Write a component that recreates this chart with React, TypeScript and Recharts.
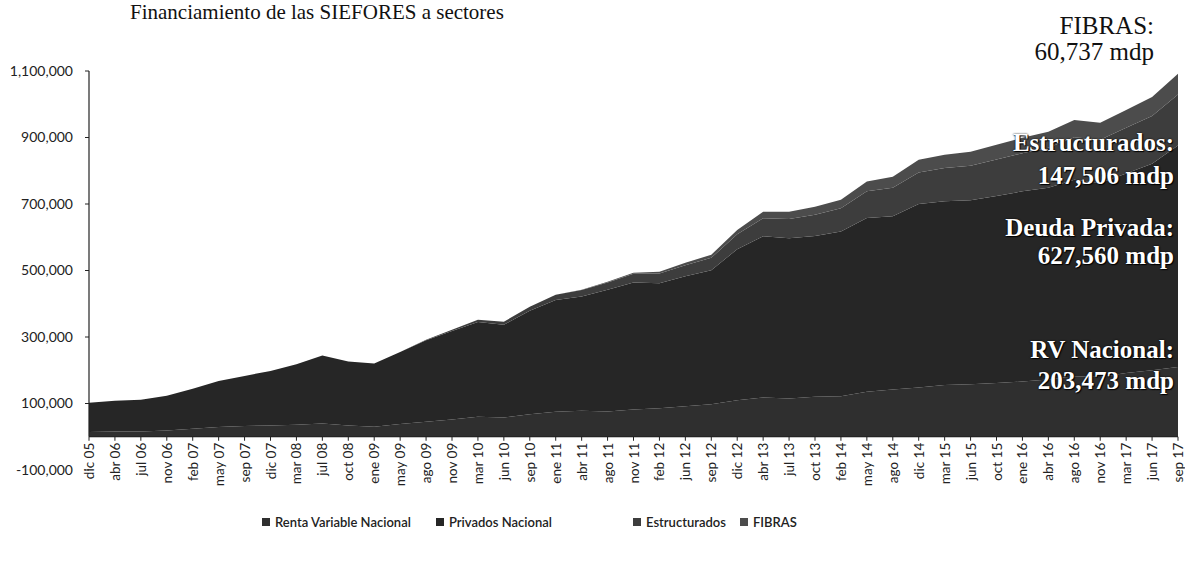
import { AreaChart, Area, XAxis, YAxis, ReferenceLine } from 'recharts'

// monthly tick labels as printed on the axis
const months = [
  'dic 05', 'abr 06', 'jul 06', 'nov 06', 'feb 07', 'may 07', 'sep 07', 'dic 07', 'mar 08', 'jul 08',
  'oct 08', 'ene 09', 'may 09', 'ago 09', 'nov 09', 'mar 10', 'jun 10', 'sep 10', 'ene 11', 'abr 11',
  'ago 11', 'nov 11', 'feb 12', 'jun 12', 'sep 12', 'dic 12', 'abr 13', 'jul 13', 'oct 13', 'feb 14',
  'may 14', 'ago 14', 'dic 14', 'mar 15', 'jun 15', 'oct 15', 'ene 16', 'abr 16', 'ago 16', 'nov 16',
  'mar 17', 'jun 17', 'sep 17',
]

// miles de millones de pesos (thousands of mdp)
const rentaVariable = [
  14, 16, 16, 19, 24, 29, 32, 34, 36, 40,
  34, 30, 38, 45, 52, 60, 58, 68, 75, 78,
  76, 82, 86, 92, 98, 110, 118, 115, 120, 122,
  135, 142, 148, 156, 158, 162, 166, 172, 182, 180,
  192, 200, 210,
]
const privados = [
  88, 92, 95, 104, 120, 139, 151, 164, 182, 204,
  192, 190, 217, 245, 266, 285, 279, 311, 336, 344,
  366, 382, 376, 391, 403, 454, 485, 482, 484, 495,
  523, 521, 552, 552, 553, 562, 572, 577, 591, 583,
  600, 621, 666,
]
const estructurados = [
  0, 0, 0, 0, 0, 0, 0, 0, 0, 0,
  0, 0, 0, 2, 4, 7, 9, 12, 16, 19,
  22, 26, 29, 33, 37, 45, 54, 58, 64, 70,
  80, 86, 95, 100, 104, 110, 115, 120, 128, 130,
  137, 144, 153,
]
const fibras = [
  0, 0, 0, 0, 0, 0, 0, 0, 0, 0,
  0, 0, 0, 0, 0, 0, 0, 0, 0, 1,
  2, 3, 5, 7, 9, 13, 20, 22, 24, 26,
  30, 33, 38, 40, 42, 44, 46, 48, 52, 51,
  54, 57, 63,
]

const yTicks = [-100000, 100000, 300000, 500000, 700000, 900000, 1100000]

const data = months.map((m, i) => ({
  month: m,
  rv: rentaVariable[i] * 1000,
  priv: privados[i] * 1000,
  estr: estructurados[i] * 1000,
  fib: fibras[i] * 1000,
}))

const PLOT_TOP = 71
const PLOT_BOTTOM = 470
// distance from the -100,000 floor up to the zero line (1/12 of the range)
const ZERO_OFFSET = (PLOT_BOTTOM - PLOT_TOP) / 12

const axisFont = 'Lato, "Open Sans", sans-serif'

function MonthTick({ x, y, payload }: any) {
  const y0 = y - ZERO_OFFSET
  return (
    <g>
      <line x1={x} x2={x} y1={y0} y2={y0 + 4} stroke="#222" strokeWidth={1} />
      <text
        x={x}
        y={y0 + 6}
        transform={`rotate(-90, ${x}, ${y0 + 6})`}
        textAnchor="end"
        dominantBaseline="central"
        fontSize={13.5}
        fontFamily={axisFont}
        fill="#222"
      >
        {payload.value}
      </text>
    </g>
  )
}

const serif = '"Liberation Serif", "DejaVu Serif", serif'

const whiteLabel: React.CSSProperties = {
  position: 'absolute',
  right: 11,
  fontFamily: serif,
  fontSize: 25,
  fontWeight: 700,
  color: '#fff',
  lineHeight: 1,
  whiteSpace: 'nowrap',
  textShadow: '0 0 2px #000, 1px 1px 1px #000',
}

const COLORS = { rv: '#2f2f2f', priv: '#262626', estr: '#3d3d3d', fib: '#4c4c4c' }

const legendItems = [
  { name: 'Renta Variable Nacional', color: COLORS.rv, left: 262 },
  { name: 'Privados Nacional', color: COLORS.priv, left: 436 },
  { name: 'Estructurados', color: COLORS.estr, left: 633 },
  { name: 'FIBRAS', color: COLORS.fib, left: 740 },
]

export default function App() {
  return (
    <div style={{ position: 'absolute', left: 0, top: 0, width: 1185, height: 561, background: '#fff', overflow: 'hidden' }}>
      {/* title, cropped by the scan in the original */}
      <div style={{ position: 'absolute', left: 130, top: 1, fontFamily: serif, fontSize: 21, lineHeight: 1.1, color: '#111', whiteSpace: 'nowrap' }}>
        Financiamiento de las SIEFORES a sectores
      </div>

      <AreaChart
        width={1185}
        height={561}
        data={data}
        margin={{ top: PLOT_TOP, right: 7, left: 0, bottom: 561 - PLOT_BOTTOM - 30 }}
      >
        <YAxis
          domain={[-100000, 1100000]}
          ticks={yTicks}
          interval={0}
          width={89}
          tickSize={4}
          tickMargin={12}
          axisLine={false}
          tickLine={{ stroke: '#222' }}
          tick={{ fontSize: 14, fill: '#222', fontFamily: axisFont }}
          tickFormatter={(v: number) => v.toLocaleString('en-US')}
          allowDataOverflow
        />
        <XAxis
          dataKey="month"
          interval={0}
          height={30}
          axisLine={false}
          tickLine={false}
          tickSize={0}
          tickMargin={0}
          tick={<MonthTick />}
        />

        <Area type="linear" dataKey="rv" stackId="s" stroke="none" fill={COLORS.rv} fillOpacity={1} isAnimationActive={false} />
        <Area type="linear" dataKey="priv" stackId="s" stroke="none" fill={COLORS.priv} fillOpacity={1} isAnimationActive={false} />
        <Area type="linear" dataKey="estr" stackId="s" stroke="none" fill={COLORS.estr} fillOpacity={1} isAnimationActive={false} />
        <Area type="linear" dataKey="fib" stackId="s" stroke="none" fill={COLORS.fib} fillOpacity={1} isAnimationActive={false} />

        {/* zero line acting as the category axis */}
        <ReferenceLine y={0} stroke="#111" strokeWidth={1} />
        {/* value axis line, drawn from zero up */}
        <ReferenceLine
          segment={[{ x: months[0], y: 0 }, { x: months[0], y: 1100000 }]}
          stroke="#222"
          strokeWidth={1.2}
        />
      </AreaChart>

      {/* end-of-period annotations */}
      <div style={{ position: 'absolute', right: 31, top: 13, textAlign: 'right', fontFamily: serif, fontSize: 25, color: '#111', lineHeight: '26px' }}>
        FIBRAS:<br />60,737 mdp
      </div>
      <div style={{ ...whiteLabel, top: 130 }}>Estructurados:</div>
      <div style={{ ...whiteLabel, top: 163 }}>147,506 mdp</div>
      <div style={{ ...whiteLabel, top: 215 }}>Deuda Privada:</div>
      <div style={{ ...whiteLabel, top: 243 }}>627,560 mdp</div>
      <div style={{ ...whiteLabel, top: 337 }}>RV Nacional:</div>
      <div style={{ ...whiteLabel, top: 368 }}>203,473 mdp</div>

      {/* legend */}
      {legendItems.map(item => (
        <div
          key={item.name}
          style={{ position: 'absolute', left: item.left, top: 514, display: 'flex', alignItems: 'center', gap: 5, fontFamily: axisFont, fontSize: 13, fontWeight: 600, color: '#222', whiteSpace: 'nowrap' }}
        >
          <span style={{ display: 'inline-block', width: 8, height: 8, background: item.color }} />
          {item.name}
        </div>
      ))}
    </div>
  )
}
